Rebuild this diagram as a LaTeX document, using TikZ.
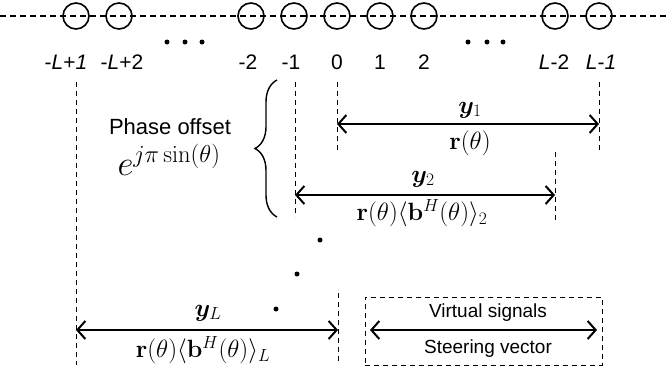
\documentclass[tikz,border=0pt]{standalone}
\usepackage{fix-cm}
\usepackage{amsmath,bm}
\usepackage[no-math]{fontspec}
\setmainfont{Liberation Sans}
\usetikzlibrary{arrows.meta,positioning,decorations.pathreplacing}
\tikzset{
	elem/.style={draw, circle, line width=1.6pt, minimum size=26pt, inner sep=0pt},
	idx/.style={font=\fontsize{21}{24}\selectfont, inner sep=0pt},
	axisln/.style={line width=1.1pt, dash pattern=on 6pt off 4pt},
	guide/.style={line width=1pt, dash pattern=on 5pt off 4pt},
	arr/.style={line width=2pt, {Straight Barb[length=8pt,width=18pt]}-{Straight Barb[length=8pt,width=18pt]}},
	mlbl/.style={font=\fontsize{25}{28}\selectfont, inner sep=0pt},
	txt/.style={font=\fontsize{19}{22}\selectfont, inner sep=0pt},
	bigtxt/.style={font=\fontsize{22}{26}\selectfont, inner sep=0pt},
	dot/.style={circle, fill, inner sep=0pt, minimum size=5pt},
}

\begin{document}
\begin{tikzpicture}[x=1pt, y=-1pt]
	\useasboundingbox (0,0) rectangle (668,373);
	% array axis and elements
	\coordinate (axl) at (0,16);
	\coordinate (axr) at (668,16);
	\draw[axisln] (axl) -- (axr);
	\node[elem] at (76,16) (nl1) {};
	\node[elem] at (119,16) (nl2) {};
	\node[elem] at (251,16) (nm2) {};
	\node[elem] at (294,16) (nm1) {};
	\node[elem] at (337,16) (n0) {};
	\node[elem] at (380,16) (n1) {};
	\node[elem] at (424,16) (n2) {};
	\node[elem] at (555,16) (nr2) {};
	\node[elem] at (599,16) (nr1) {};
	\foreach \x in {167,185,202,468,487,503}
		\node[dot] at (\x,42) {};
	% indices
	\node[idx] at (66,62) (il1) {-\textit{L}+\textit{1}};
	\node[idx] at (122,62) (il2) {-\textit{L}+2};
	\node[idx] at (248,62) (im2) {-2};
	\node[idx] at (291,62) (im1) {-1};
	\node[idx] at (337,62) (i0) {0};
	\node[idx] at (380,62) (i1) {1};
	\node[idx] at (424,62) (i2) {2};
	\node[idx] at (554,62) (ir2) {\textit{L}-2};
	\node[idx] at (601,62) (ir1) {\textit{L}-\textit{1}};
	% guide lines
	\coordinate (gat) at (76,82);   \coordinate (gab) at (76,365);
	\coordinate (gbt) at (295,82);  \coordinate (gbb) at (295,217);
	\coordinate (gct) at (337,82);  \coordinate (gcb) at (337,150);
	\coordinate (gdt) at (599,82);  \coordinate (gdb) at (599,150);
	\coordinate (get) at (555,152); \coordinate (geb) at (555,220);
	\coordinate (gft) at (338,293); \coordinate (gfb) at (338,363);
	\foreach \a/\b in {gat/gab,gbt/gbb,gct/gcb,gdt/gdb,get/geb,gft/gfb}
		\draw[guide] (\a) -- (\b);
	% virtual signals
	\coordinate (y1l) at (337,124); \coordinate (y1r) at (599,124);
	\draw[arr] (y1l) -- (y1r);
	\node[mlbl] at (470,110) (ly1) {$\bm{y}_1$};
	\node[mlbl] at (470,143) (lr1) {$\mathbf{r}(\theta)$};
	\coordinate (y2l) at (295,195); \coordinate (y2r) at (555,195);
	\draw[arr] (y2l) -- (y2r);
	\node[mlbl] at (423,179) (ly2) {$\bm{y}_2$};
	\node[mlbl] at (422,213) (lr2) {$\mathbf{r}(\theta)\langle\mathbf{b}^H(\theta)\rangle_2$};
	\coordinate (yLl) at (76,330); \coordinate (yLr) at (338,330);
	\draw[arr] (yLl) -- (yLr);
	\node[mlbl] at (208,313) (lyL) {$\bm{y}_L$};
	\node[mlbl] at (203,350) (lrL) {$\mathbf{r}(\theta)\langle\mathbf{b}^H(\theta)\rangle_L$};
	\node[dot] at (320,240) (d1) {};
	\node[dot] at (297,274) (d2) {};
	\node[dot] at (276,309) (d3) {};
	% phase offset
	\draw[line width=1.4pt, decorate, decoration={brace, amplitude=22pt}] (277,217) -- (277,80);
	\node[bigtxt] at (170,127) (po) {Phase offset};
	\node[font=\fontsize{35}{40}\selectfont, inner sep=0pt] at (169,160) (pe) {$e^{j\pi\sin(\theta)}$};
	% legend
	\node[draw, guide, minimum width=237pt, minimum height=68pt] at (483.5,331) (leg) {};
	\coordinate (lgl) at (370,330); \coordinate (lgr) at (597,330);
	\draw[arr] (lgl) -- (lgr);
	\node[txt] at (488,313) (lv) {Virtual signals};
	\node[txt] at (488,349) (ls) {Steering vector};
\end{tikzpicture}
\end{document}
